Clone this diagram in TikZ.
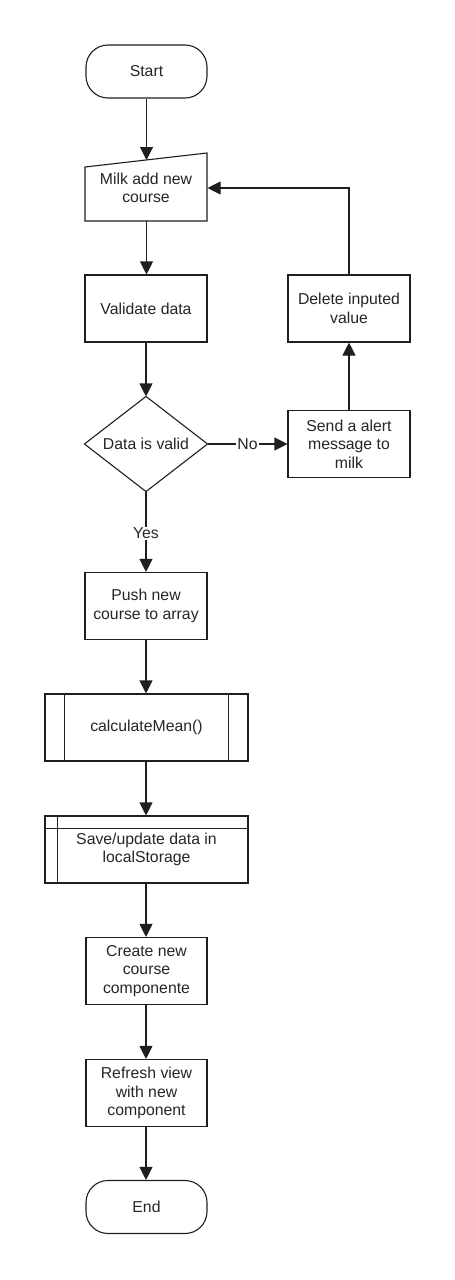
\documentclass[tikz,border=0pt]{standalone}
\usepackage{fontspec}
\setmainfont{Liberation Sans}
\usetikzlibrary{arrows.meta}
\newcommand\diagfont{\fontsize{15.8}{18.5}\selectfont}
\begin{document}
\begin{tikzpicture}[x=1pt,y=-1pt,line width=1.1pt,draw=black!88,
  line cap=butt,
  lbl/.style={inner sep=1pt,align=center,font=\diagfont,text=black!85},
  box/.style={draw,lbl,minimum width=122pt,minimum height=67pt},
  ghost/.style={lbl,minimum width=122pt,minimum height=67pt},
  term/.style={draw,lbl,minimum width=121pt,minimum height=53pt,rounded corners=22pt},
  arr/.style={-{Triangle[length=13pt,width=13pt]}},
  tag/.style={fill=white,inner sep=1pt,font=\diagfont,text=black!85}]
\fill[white] (0,0) rectangle (455,1280);
\useasboundingbox (0,0) rectangle (455,1280);

% nodes
\node[term] (start) at (146.5,71.5) {Start};
\draw (85,167) -- (207,153) -- (207,221) -- (85,221) -- cycle;
\node[ghost,minimum height=40pt] (milk) at (146,188) {Milk add new\\course};
\coordinate (milktop) at (146.5,160);
\node[box] (val) at (146,308.5) {Validate data};
\node[box] (del) at (349,308.5) {Delete inputed\\value};
\node[ghost,minimum height=94pt] (dv) at (146,444) {Data is valid};
\draw (dv.north) -- (dv.east) -- (dv.south) -- (dv.west) -- cycle;
\node[box] (send) at (349,444) {Send a alert\\message to\\milk};
\node[box] (push) at (146,606) {Push new\\course to array};
\node[box,minimum width=203pt] (calc) at (146.5,727.5) {calculateMean()};
\draw (calc.north west) ++(20,0) -- ++(0,67);
\draw (calc.north east) ++(-20,0) -- ++(0,67);
\node[box,minimum width=203pt] (save) at (146.5,849.5) {\raisebox{-3pt}{\parbox{200pt}{\centering Save/update data in\\localStorage}}};
\draw (save.north west) ++(13,0) -- ++(0,67);
\draw (save.north west) ++(0,13) -- ++(203,0);
\node[box,minimum width=121pt] (create) at (146.5,971) {Create new\\course\\componente};
\node[box,minimum width=121pt] (refresh) at (146.5,1093) {Refresh view\\with new\\component};
\node[term] (end) at (146.5,1207) {End};

% connectors
\draw[arr] (start.south) -- (milktop);
\draw[arr] (146.5,221) -- (val.north -| 146.5,0);
\draw[arr] (val.south) -- (dv.north);
\draw[arr] (dv.east) -- node[tag] {No} (send.west);
\draw[arr] (send.north) -- (del.south);
\draw[arr] (del.north) |- (milk.east);
\draw[arr] (dv.south) -- node[tag,pos=0.52] {Yes} (push.north);
\draw[arr] (push.south) -- (calc.north -| push.south);
\draw[arr] (calc.south -| push.south) -- (save.north -| push.south);
\draw[arr] (save.south -| push.south) -- (create.north -| push.south);
\draw[arr] (create.south -| push.south) -- (refresh.north -| push.south);
\draw[arr] (refresh.south -| push.south) -- (end.north -| push.south);
\end{tikzpicture}
\end{document}
